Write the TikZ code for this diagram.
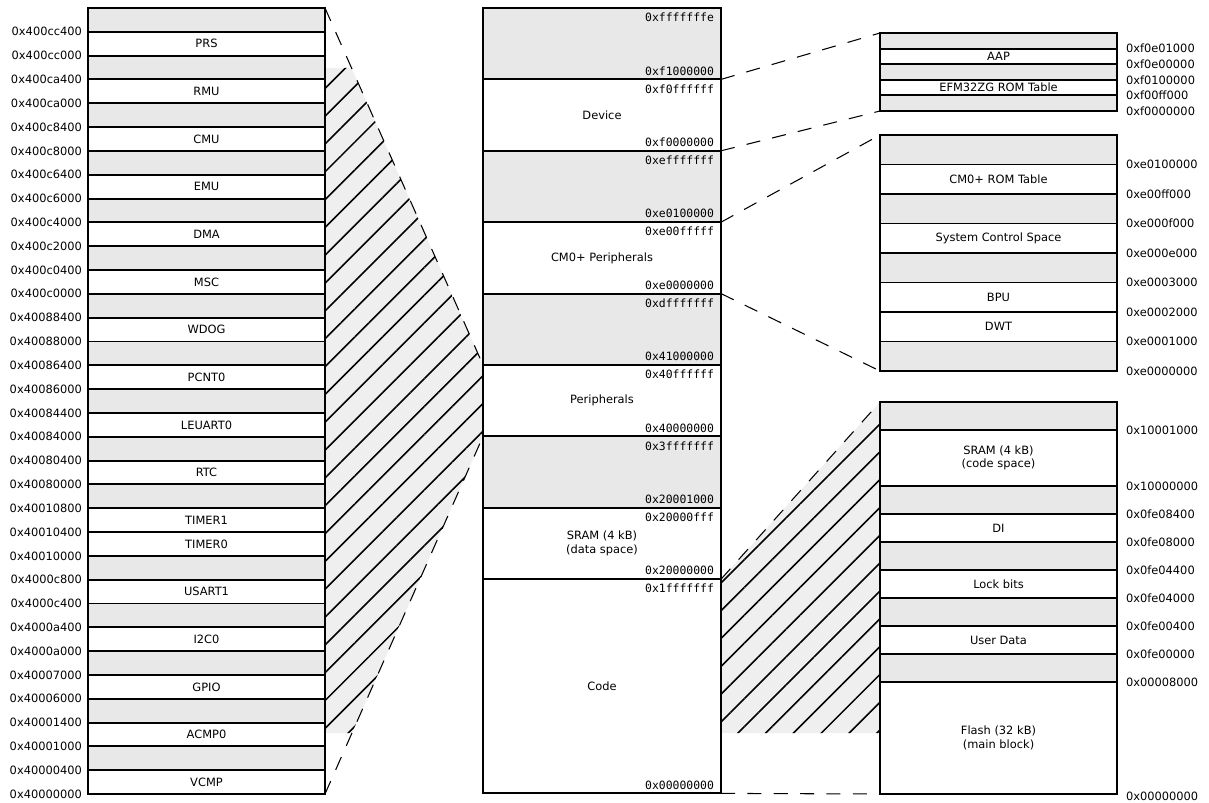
\documentclass[tikz,border=0pt]{standalone}
\usepackage{fontspec}
\setmainfont{DejaVu Sans}
\setmonofont{DejaVu Sans Mono}
\usetikzlibrary{patterns.meta}
\definecolor{memgray}{HTML}{E8E8E8}
\definecolor{hatchgray}{HTML}{EFEFEF}
\tikzset{
  memline/.style={line width=1.1pt},
  region/.style={font=\fontsize{6.5}{7.6}\selectfont, align=center, inner sep=0pt},
  addr/.style={font=\fontsize{6.5}{7.6}\selectfont, inner sep=1pt},
  hexaddr/.style={font=\ttfamily\fontsize{6.5}{7.6}\selectfont, inner sep=1pt, anchor=east},
  zoomline/.style={line width=0.6pt, dash pattern=on 8pt off 7pt},
  hatched/.style={fill=hatchgray, postaction={pattern={Lines[angle=45, distance=11.2pt, line width=0.9pt]}, pattern color=black}}
}
\begin{document}
\begin{tikzpicture}[x=0.02cm, y=-0.02cm]
  \useasboundingbox (0,0) rectangle (1209,803);
  \def\lh{23.82}
  \def\mh{71.4}

  % corners the zoom lines run between
  \coordinate (left-ne) at (325,8);
  \coordinate (left-se) at (325,794);
  \coordinate (per-top) at (483,{8+5*\mh});
  \coordinate (per-bot) at (483,{8+6*\mh});
  \coordinate (dev-top) at (721,{8+\mh});
  \coordinate (dev-bot) at (721,{8+2*\mh});
  \coordinate (ppb-top) at (721,{8+3*\mh});
  \coordinate (ppb-bot) at (721,{8+4*\mh});
  \coordinate (code-top) at (721,{8+8*\mh});
  \coordinate (code-bot) at (721,{8+11*\mh});
  \coordinate (dbg-nw) at (880,33);
  \coordinate (dbg-sw) at (880,111);
  \coordinate (cm-nw) at (880,135);
  \coordinate (cm-sw) at (880,371);
  \coordinate (flash-nw) at (880,402);
  \coordinate (flash-sw) at (880,794);

  \path[hatched] (325,68) -- (351.5,68) -- (per-top) -- (per-bot) -- (352,733) -- (325,733) -- cycle;
  \path[hatched] (code-top) -- (flash-nw) -- (880,733) -- (721,733) -- cycle;

  \draw[zoomline] (left-ne) -- (per-top);
  \draw[zoomline] (left-se) -- (per-bot);
  \draw[zoomline] (dev-top) -- (dbg-nw);
  \draw[zoomline] (dev-bot) -- (dbg-sw);
  \draw[zoomline] (ppb-top) -- (cm-nw);
  \draw[zoomline] (ppb-bot) -- (cm-sw);
  \draw[zoomline] (code-top) -- (flash-nw);
  \draw[zoomline] (code-bot) -- (flash-sw);

  % peripherals
  \fill[memgray] (88,8) rectangle (325,794);
  \foreach \i/\name in {1/PRS,3/RMU,5/CMU,7/EMU,9/DMA,11/MSC,13/WDOG,15/PCNT0,17/LEUART0,19/RTC,21/TIMER1,22/TIMER0,24/USART1,26/I2C0,28/GPIO,30/ACMP0,32/VCMP} {
    \fill[white] (88,{8+\i*\lh}) rectangle (325,{8+(\i+1)*\lh});
    \node[region] (periph-\i) at (206.5,{8+(\i+0.5)*\lh}) {\name};
  }
  \foreach \i in {1,...,32}
    \draw[memline] (88,{8+\i*\lh}) -- (325,{8+\i*\lh});
  \draw[memline] (88,8) rectangle (325,794);
  \foreach \a [count=\i] in {0x400cc400,0x400cc000,0x400ca400,0x400ca000,0x400c8400,0x400c8000,0x400c6400,0x400c6000,0x400c4000,0x400c2000,0x400c0400,0x400c0000,0x40088400,0x40088000,0x40086400,0x40086000,0x40084400,0x40084000,0x40080400,0x40080000,0x40010800,0x40010400,0x40010000,0x4000c800,0x4000c400,0x4000a400,0x4000a000,0x40007000,0x40006000,0x40001400,0x40001000,0x40000400,0x40000000}
    \node[addr, anchor=east] (pa-\i) at (84,{8+\i*\lh}) {\a};

  % system map
  \foreach \k in {0,2,4,6}
    \fill[memgray] (483,{8+\k*\mh}) rectangle (721,{8+(\k+1)*\mh});
  \foreach \k/\name in {1/Device,3/CM0+ Peripherals,5/Peripherals,7/{SRAM (4 kB)\\(data space)}}
    \node[region] (map-\k) at (602,{8+(\k+0.5)*\mh}) {\name};
  \node[region] (map-code) at (602,{8+9.5*\mh}) {Code};
  \foreach \k in {1,...,8}
    \draw[memline] (483,{8+\k*\mh}) -- (721,{8+\k*\mh});
  \draw[memline] (483,8) rectangle (721,{8+11*\mh});
  \foreach \k/\hi/\lo in {0/0xfffffffe/0xf1000000,1/0xf0ffffff/0xf0000000,2/0xefffffff/0xe0100000,3/0xe00fffff/0xe0000000,4/0xdfffffff/0x41000000,5/0x40ffffff/0x40000000,6/0x3fffffff/0x20001000,7/0x20000fff/0x20000000} {
    \node[hexaddr] (hi-\k) at (716,{8+\k*\mh+9.5}) {\hi};
    \node[hexaddr] (lo-\k) at (716,{8+(\k+1)*\mh-8.5}) {\lo};
  }
  \node[hexaddr] (hi-code) at (716,{8+8*\mh+9.5}) {0x1fffffff};
  \node[hexaddr] (lo-code) at (716,{8+11*\mh-8.5}) {0x00000000};

  % debug area
  \foreach \k in {0,2,4}
    \fill[memgray] (880,{33+\k*15.6}) rectangle (1117,{33+(\k+1)*15.6});
  \node[region] (dbg-1) at (998.5,{33+1.5*15.6}) {AAP};
  \node[region] (dbg-3) at (998.5,{33+3.5*15.6}) {EFM32ZG ROM Table};
  \foreach \k in {1,...,4}
    \draw[memline] (880,{33+\k*15.6}) -- (1117,{33+\k*15.6});
  \draw[memline] (880,33) rectangle (1117,111);
  \foreach \a [count=\k] in {0xf0e01000,0xf0e00000,0xf0100000,0xf00ff000,0xf0000000}
    \node[addr, anchor=west] (da-\k) at (1124,{33+\k*15.6}) {\a};

  % private peripheral bus
  \foreach \k in {0,2,4,7}
    \fill[memgray] (880,{135+\k*29.5}) rectangle (1117,{135+(\k+1)*29.5});
  \foreach \k/\name in {1/CM0+ ROM Table,3/System Control Space,5/BPU,6/DWT}
    \node[region] (ppb-\k) at (998.5,{135+(\k+0.5)*29.5}) {\name};
  \foreach \k in {1,...,7}
    \draw[memline] (880,{135+\k*29.5}) -- (1117,{135+\k*29.5});
  \draw[memline] (880,135) rectangle (1117,371);
  \foreach \a [count=\k] in {0xe0100000,0xe00ff000,0xe000f000,0xe000e000,0xe0003000,0xe0002000,0xe0001000,0xe0000000}
    \node[addr, anchor=west] (pb-\k) at (1124,{135+\k*29.5}) {\a};

  % code area
  \foreach \k in {0,3,5,7,9}
    \fill[memgray] (880,{402+\k*28}) rectangle (1117,{402+(\k+1)*28});
  \foreach \k/\name in {2/{SRAM (4 kB)\\(code space)},4.5/DI,6.5/Lock bits,8.5/User Data,12/{Flash (32 kB)\\(main block)}}
    \node[region] at (998.5,{402+\k*28}) {\name};
  \foreach \k in {1,3,4,5,6,7,8,9,10}
    \draw[memline] (880,{402+\k*28}) -- (1117,{402+\k*28});
  \draw[memline] (880,402) rectangle (1117,794);
  \foreach \k/\a in {1/0x10001000,3/0x10000000,4/0x0fe08400,5/0x0fe08000,6/0x0fe04400,7/0x0fe04000,8/0x0fe00400,9/0x0fe00000,10/0x00008000,14.1/0x00000000}
    \node[addr, anchor=west] at (1124,{402+\k*28}) {\a};
\end{tikzpicture}
\end{document}
